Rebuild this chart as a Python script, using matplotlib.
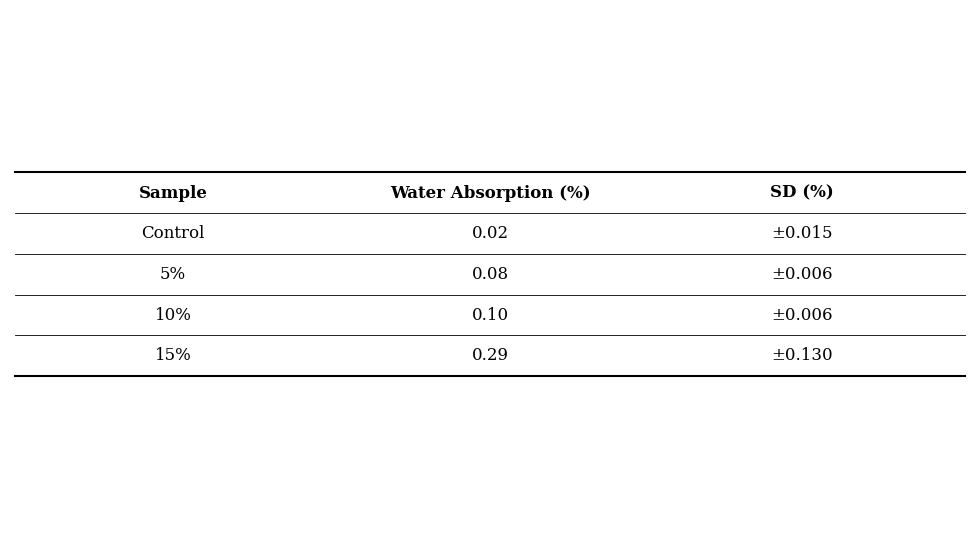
import matplotlib.pyplot as plt

headers = ["Sample", "Water Absorption (%)", "SD (%)"]
samples = ["Control", "5%", "10%", "15%"]
absorption = ["0.02", "0.08", "0.10", "0.29"]
sd = ["\u00b10.015", "\u00b10.006", "\u00b10.006", "\u00b10.130"]

W, H = 980, 560
fig = plt.figure(figsize=(9.8, 5.6), dpi=100)
fig.patch.set_facecolor("white")

def fx(x):
    return x / W

def fy(y):
    return 1 - y / H

col_x = [173, 490, 802]
row_lines = [172, 213, 254, 295, 335, 376]
left, right = 15, 965
font = "DejaVu Serif"
fs = 12

for i, y in enumerate(row_lines):
    lw = 1.5 if i in (0, len(row_lines) - 1) else 0.6
    fig.add_artist(plt.Line2D([fx(left), fx(right)], [fy(y), fy(y)], color="black", lw=lw))

for x, h in zip(col_x, headers):
    fig.text(fx(x), fy(193), h, ha="center", va="center", fontsize=fs,
             fontweight="bold", family=font)

for r, row in enumerate(zip(samples, absorption, sd)):
    yc = (row_lines[r + 1] + row_lines[r + 2]) / 2
    for x, val in zip(col_x, row):
        fig.text(fx(x), fy(yc), val, ha="center", va="center", fontsize=fs, family=font)

fig.savefig("out.png", dpi=100)
